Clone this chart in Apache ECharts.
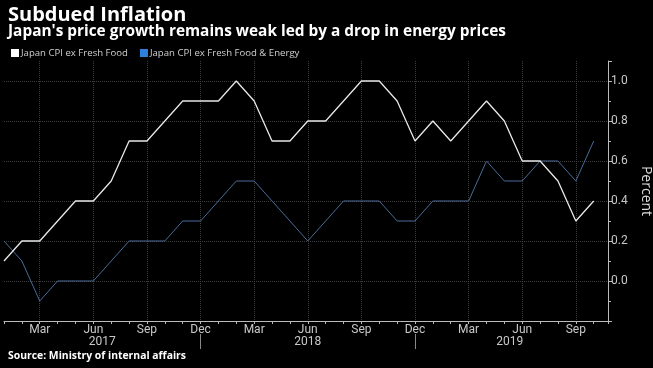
<!DOCTYPE html>
<html>
<head>
<meta charset="utf-8">
<script src="https://cdn.jsdelivr.net/npm/echarts@6/dist/echarts.min.js"></script>
<style>
  html, body { margin: 0; padding: 0; background: #000; }
  #chart { width: 653px; height: 368px; }
</style>
</head>
<body>
<div id="chart"></div>
<script>
// Month index 0 = Jan 2017 ... 33 = Oct 2019
const monthNames = ['Jan','Feb','Mar','Apr','May','Jun','Jul','Aug','Sep','Oct','Nov','Dec'];
const years = ['2017', '2018', '2019'];
// year label centre (in months from Jan 2017) and year separators (at Dec)
const yearLabelPos = [5.5, 17.0, 28.3];
const yearSepPos = [11, 23];
// Japan CPI ex Fresh Food (YoY %), Jan 2017 - Oct 2019
const cpiExFreshFood = [0.1,0.2,0.2,0.3,0.4,0.4,0.5,0.7,0.7,0.8,0.9,0.9,
                        0.9,1.0,0.9,0.7,0.7,0.8,0.8,0.9,1.0,1.0,0.9,0.7,
                        0.8,0.7,0.8,0.9,0.8,0.6,0.6,0.5,0.3,0.4];
// Japan CPI ex Fresh Food & Energy (YoY %), Jan 2017 - Oct 2019
const cpiExFreshFoodEnergy = [0.2,0.1,-0.1,0.0,0.0,0.0,0.1,0.2,0.2,0.2,0.3,0.3,
                              0.4,0.5,0.5,0.4,0.3,0.2,0.3,0.4,0.4,0.4,0.3,0.3,
                              0.4,0.4,0.4,0.6,0.5,0.5,0.6,0.6,0.5,0.7];
const yTicks = [-0.2, 0.0, 0.2, 0.4, 0.6, 0.8, 1.0];

const xMax = 33.8;
// tenth-of-month slots for the year row
const slotsPerMonth = 10;
const yearSlots = [];
for (let k = 0; k <= Math.round(xMax * slotsPerMonth); k++) yearSlots.push('');
yearLabelPos.forEach((p, i) => { yearSlots[Math.round(p * slotsPerMonth)] = years[i]; });
const sepSlots = yearSepPos.map(p => p * slotsPerMonth);

const toPairs = arr => arr.map((v, i) => [i, v]);

const labelFont = 'Roboto, "Liberation Sans", sans-serif';
const chart = echarts.init(document.getElementById('chart'));
chart.setOption({
  backgroundColor: '#000',
  animation: false,
  title: [{
    text: 'Subdued Inflation',
    subtext: "Japan's price growth remains weak led by a drop in energy prices",
    left: 3, top: 0,
    itemGap: -1,
    textStyle: { color: '#fff', fontSize: 20, fontWeight: 'bold', fontFamily: '"Open Sans", sans-serif' },
    subtextStyle: { color: '#fff', fontSize: 15.4, fontWeight: 'bold', fontFamily: '"Open Sans", sans-serif' }
  }, {
    text: 'Source: Ministry of internal affairs',
    left: 3, top: 346,
    textStyle: { color: '#fff', fontSize: 10.4, fontWeight: 'bold', fontFamily: '"Open Sans", sans-serif' }
  }],
  legend: {
    left: 6, top: 43,
    icon: 'rect', itemWidth: 8, itemHeight: 8, itemGap: 12,
    textStyle: { color: '#cfcfcf', fontSize: 9.6, fontFamily: '"Open Sans", sans-serif', padding: [0, 0, 0, -3] },
    data: ['Japan CPI ex Fresh Food', 'Japan CPI ex Fresh Food & Energy']
  },
  grid: { left: 4, right: 45, top: 61, bottom: 47, containLabel: false, outerBoundsMode: 'none' },
  xAxis: [{
    type: 'value',
    min: 0, max: xMax, interval: 1,
    axisLine: { onZero: false, lineStyle: { color: '#bbb', width: 1 } },
    axisTick: { show: true, length: 3, lineStyle: { color: '#bbb' } },
    axisLabel: {
      formatter: (v) => (Number.isInteger(v) && v % 3 === 2) ? monthNames[v % 12] : '',
      showMinLabel: true, showMaxLabel: true,
      color: '#c8c8c8', fontSize: 12, margin: 3, fontFamily: labelFont
    },
    splitLine: { show: true, showMinLine: false, showMaxLine: false,
      lineStyle: { color: ['rgba(0,0,0,0)', '#3c3c3c', 'rgba(0,0,0,0)'], type: 'dotted' } }
  }, {
    type: 'category',
    data: yearSlots,
    boundaryGap: false,
    position: 'bottom',
    offset: 13,
    axisLine: { show: false, onZero: false },
    axisTick: { show: true, interval: (i) => sepSlots.indexOf(i) >= 0, length: 15, lineStyle: { color: '#888' } },
    axisLabel: {
      interval: (i) => yearSlots[i] !== '',
      color: '#c8c8c8', fontSize: 12, margin: 2, fontFamily: labelFont
    },
    splitLine: { show: false }
  }],
  yAxis: {
    type: 'value',
    position: 'right',
    min: yTicks[0], max: 1.1, interval: 0.2,
    axisLine: { show: true, onZero: false, lineStyle: { color: '#bbb' } },
    axisTick: { show: true, length: 4, lineStyle: { color: '#bbb' } },
    minorTick: { show: true, splitNumber: 2, length: 3, lineStyle: { color: '#bbb' } },
    axisLabel: {
      formatter: (v) => yTicks.indexOf(Math.round(v * 10) / 10) > 0 ? v.toFixed(1) : '',
      showMaxLabel: false, showMinLabel: false,
      color: '#c8c8c8', fontSize: 12, margin: 3, fontFamily: labelFont
    },
    splitLine: { show: true, showMinLine: false, showMaxLine: false, lineStyle: { color: '#3c3c3c', type: 'dotted' } },
    name: 'Percent',
    nameLocation: 'middle',
    nameGap: 27,
    nameRotate: -90,
    nameTextStyle: { color: '#ddd', fontSize: 14, fontFamily: '"Open Sans", sans-serif' }
  },
  series: [{
    name: 'Japan CPI ex Fresh Food',
    type: 'line',
    xAxisIndex: 0,
    data: toPairs(cpiExFreshFood),
    showSymbol: false,
    itemStyle: { color: '#ffffff' },
    lineStyle: { color: '#e8e8e8', width: 1.3 },
    z: 3
  }, {
    name: 'Japan CPI ex Fresh Food & Energy',
    type: 'line',
    xAxisIndex: 0,
    data: toPairs(cpiExFreshFoodEnergy),
    showSymbol: false,
    itemStyle: { color: '#2f7fdc' },
    lineStyle: { color: '#4a6c98', width: 1 },
    z: 2
  }]
});
</script>
</body>
</html>
